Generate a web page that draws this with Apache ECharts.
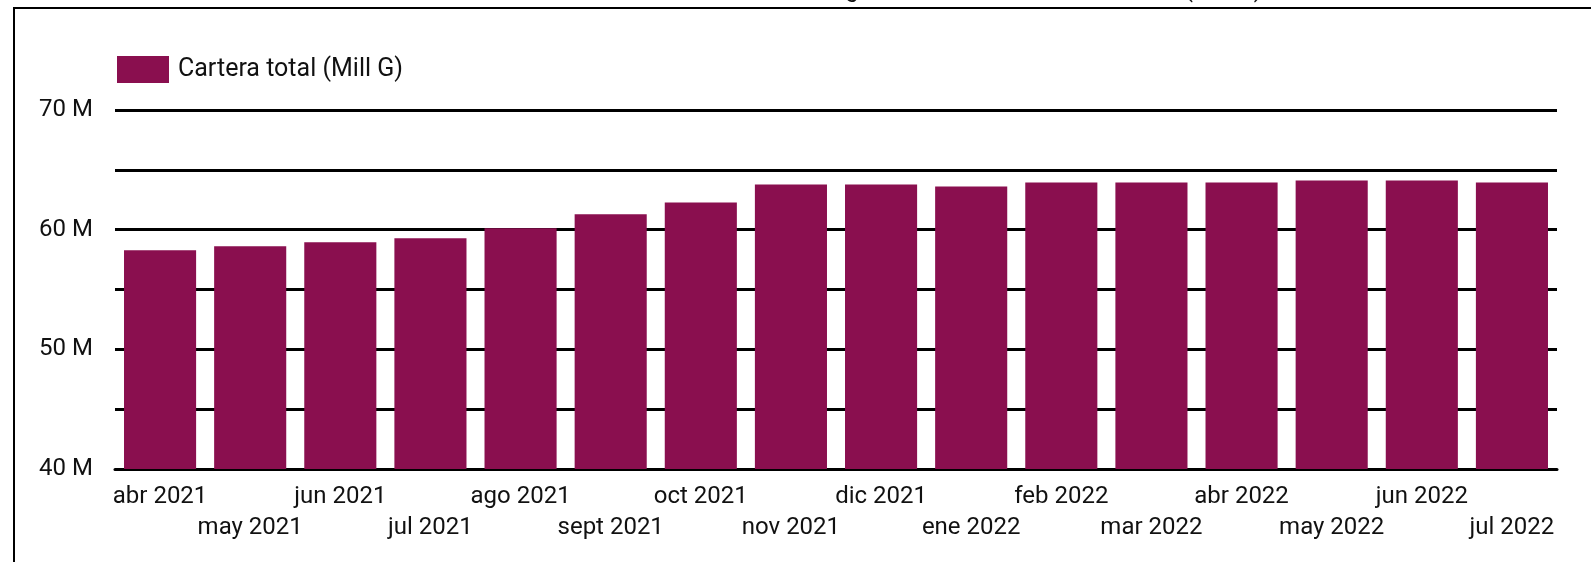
<!DOCTYPE html>
<html>
<head>
<meta charset="utf-8">
<script src="https://cdn.jsdelivr.net/npm/echarts@6/dist/echarts.min.js"></script>
<style>
html,body{margin:0;padding:0;background:#fff;}
#c{width:1591px;height:562px;}
</style>
</head>
<body>
<div id="c"></div>
<script>
const categories = ['abr 2021','may 2021','jun 2021','jul 2021','ago 2021','sept 2021','oct 2021','nov 2021','dic 2021','ene 2022','feb 2022','mar 2022','abr 2022','may 2022','jun 2022','jul 2022'];
const carteraTotal = [58.28,58.61,58.94,59.28,60.11,61.28,62.28,63.78,63.78,63.61,63.94,63.94,63.94,64.11,64.11,63.94];
const seriesName = 'Cartera total (Mill G)';
const titleText = 'Cartera de créditos en guaraníes del sistema bancario (Mill G)';

const FONT = 'Roboto, "Noto Sans", sans-serif';
const TXT = '#111';
const chart = echarts.init(document.getElementById('c'));
chart.setOption({
  animation: false,
  backgroundColor: '#ffffff',
  textStyle: { fontFamily: FONT },
  graphic: [
    { type: 'line', shape: { x1: 13, y1: 8, x2: 1591, y2: 8 }, style: { stroke: '#000', lineWidth: 2 } },
    { type: 'line', shape: { x1: 14, y1: 8, x2: 14, y2: 562 }, style: { stroke: '#000', lineWidth: 2 } },
    { type: 'text', x: 1262, y: 3, style: { text: titleText, align: 'right', verticalAlign: 'bottom', font: '24px Roboto', fill: TXT } }
  ],
  legend: {
    left: 112, top: 51,
    itemWidth: 52, itemHeight: 27, icon: 'rect', itemGap: 10,
    textStyle: { fontSize: 25, color: TXT, fontFamily: FONT, padding: [0, 0, 0, 4] },
    data: [seriesName]
  },
  grid: { left: 115, right: 34, top: 110, bottom: 93, containLabel: false },
  xAxis: {
    type: 'category',
    data: categories,
    axisTick: { show: false },
    axisLine: { lineStyle: { color: '#000', width: 3 } },
    axisLabel: {
      interval: 0,
      margin: 12,
      fontSize: 24,
      lineHeight: 31,
      color: TXT,
      fontFamily: FONT,
      formatter: (v, i) => (i % 2 ? '\n' + v : v)
    }
  },
  yAxis: {
    type: 'value',
    min: 40, max: 70, interval: 5,
    axisLine: { show: false },
    axisTick: { show: false },
    splitLine: { lineStyle: { color: '#000', width: 3 } },
    axisLabel: {
      margin: 22,
      fontSize: 24,
      color: TXT,
      fontFamily: FONT,
      formatter: v => (v % 10 === 0 ? v + ' M' : '')
    }
  },
  series: [{
    name: seriesName,
    type: 'bar',
    data: carteraTotal,
    barCategoryGap: '20%',
    itemStyle: { color: '#8a0f4f' }
  }]
});
</script>
</body>
</html>
